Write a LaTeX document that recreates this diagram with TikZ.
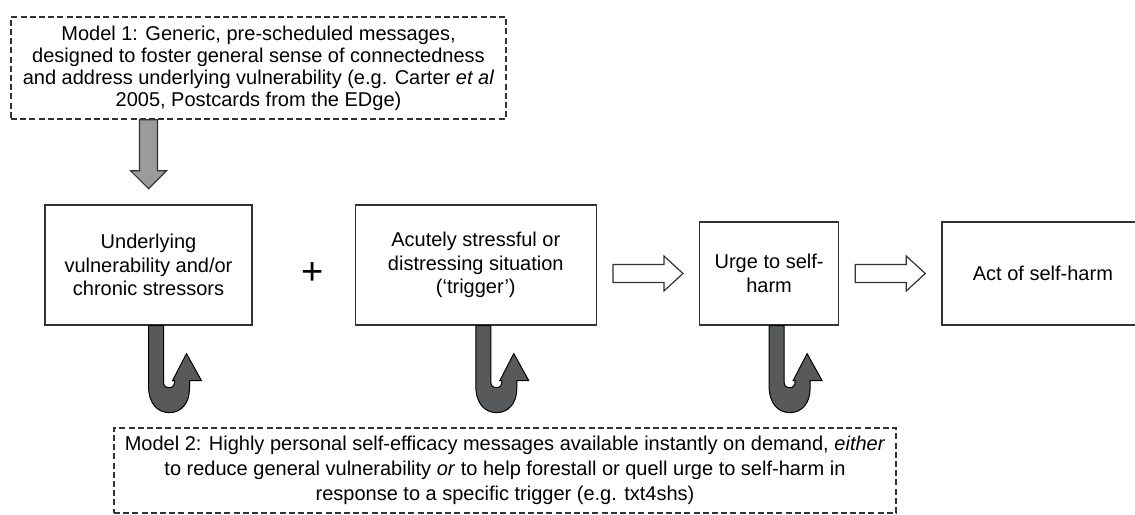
\documentclass[tikz,border=0pt]{standalone}
\usepackage{fontspec}
\setmainfont{Liberation Sans}
\usetikzlibrary{positioning, calc}

\definecolor{linegray}{HTML}{333333}
\definecolor{arrowgray}{HTML}{9B9B9B}
\definecolor{hookgray}{HTML}{58595B}

\begin{document}
\begin{tikzpicture}[
    x=0.5pt, y=-0.5pt,
    node distance=51pt,
    stage/.style={rectangle, draw=linegray, line width=0.65pt, align=center, inner sep=2pt, font=\fontsize{10}{11.8}\selectfont},
    model/.style={rectangle, draw=linegray, line width=0.65pt, dash pattern=on 3pt off 1.6pt, align=center, inner sep=2pt},
    openarrow/.style={draw=linegray, line width=0.6pt, fill=white},
    grayarrow/.style={draw=linegray, line width=0.6pt, fill=arrowgray},
    hookfill/.style={draw=black, line width=0.5pt, fill=hookgray},
    hookarrow/.pic={
        \draw[hookfill] (0,0) -- (0,60) .. controls (0,78) and (9,87) .. (21,87)
            .. controls (33,87) and (41,77) .. (41,63) -- (41,55) -- (53,55) -- (38,28)
            -- (24,55) -- (26,55) -- (26,56) .. controls (26,60) and (24,62) .. (20.5,62)
            .. controls (17,62) and (15,60) .. (15,56) -- (15,0) -- cycle;
    }
]
\useasboundingbox (0,0) rectangle (1135,514);

% Model 1
\node[model, minimum width=247.5pt, minimum height=51pt, font=\fontsize{10}{11}\selectfont] (model1) at (258.5,68)
    {Model 1: Generic, pre-scheduled messages,\\designed to foster general sense of connectedness\\and address underlying vulnerability (e.g. Carter \textit{et al}\\2005, Postcards from the EDge)};

% Stages
\node[stage, minimum width=103.5pt, minimum height=60pt] (vuln) at (148.5,265) {Underlying\\vulnerability and/or\\chronic stressors};
\node[stage, minimum width=120.5pt, minimum height=60pt, right=of vuln] (trigger) {Acutely stressful or\\distressing situation\\(‘trigger’)};
\node[stage, minimum width=69.5pt, minimum height=51.5pt, right=of trigger.south east, anchor=south west] (urge) {Urge to self-\\harm};
\node[stage, minimum width=101pt, minimum height=51.5pt, right=of urge] (act) {Act of self-harm};

\node[font=\fontsize{19}{20}\selectfont, xshift=4.5pt, yshift=-4.5pt] (plus) at ($(vuln.east)!0.5!(trigger.west)$) {+};

% Model 2
\node[model, minimum width=391pt, minimum height=42.5pt, font=\fontsize{10}{12.5}\selectfont] (model2) at (505,470.5)
    {Model 2: Highly personal self-efficacy messages available instantly on demand, \textit{either}\\to reduce general vulnerability \textit{or} to help forestall or quell urge to self-harm in\\response to a specific trigger (e.g. txt4shs)};

% Connections
\draw[grayarrow] (vuln.north |- model1.south) ++(-9,0) -- ++(0,51) -- ++(-9,0) -- ++(18,18) -- ++(18,-18) -- ++(-9,0) -- ++(0,-51) -- cycle;

\draw[openarrow] ($(trigger.east |- urge.west)+(16,-9)$) -- ++(51,0) -- ++(0,-8.5) -- ++(19,17.5) -- ++(-19,17.5) -- ++(0,-8.5) -- ++(-51,0) -- cycle;
\draw[openarrow] ($(urge.east)+(16,-9)$) -- ++(51,0) -- ++(0,-8.5) -- ++(19,17.5) -- ++(-19,17.5) -- ++(0,-8.5) -- ++(-51,0) -- cycle;

\pic at (vuln.south) {hookarrow};
\pic at (trigger.south) {hookarrow};
\pic at (urge.south) {hookarrow};

\end{tikzpicture}
\end{document}
